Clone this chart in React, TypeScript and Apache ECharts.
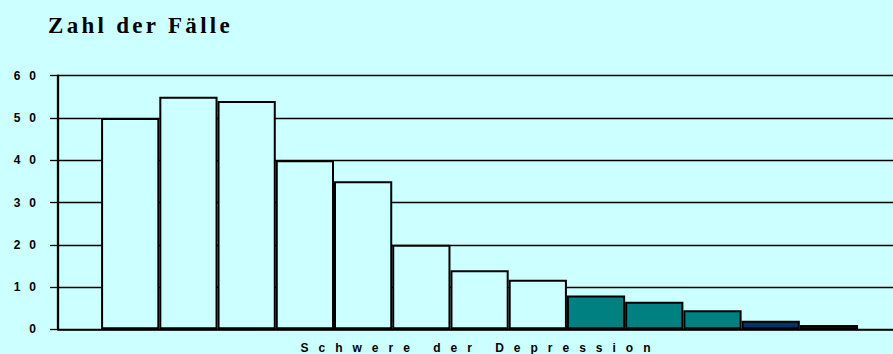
import React, { useEffect, useRef } from "react";
import * as echarts from "echarts";

// Severity classes (x positions of the histogram bars) and case counts per class
const severityClasses = [1, 2, 3, 4, 5, 6, 7, 8, 9, 10, 11, 12, 13];
const caseCounts = [50, 55, 54, 40, 35, 20, 14, 11.7, 8, 6.5, 4.5, 2, 1];

// Value-axis ticks
const yTicks = [0, 10, 20, 30, 40, 50, 60];
const yTickLabels = ["0", "10", "20", "30", "40", "50", "60"];

const titleText = "Zahl der Fälle";
const xAxisName = "Schwere der Depression";

const WIDTH = 893;
const HEIGHT = 354;
const GRID = { left: 58, right: 0, top: 75.7, bottom: 24.7 };
const X_MIN = -0.24;
const X_MAX = 14.1;

const BG = "#CCFFFF";
const TEAL = "#008080";
const NAVY = "#003366";

function barColor(idx: number): string {
  if (idx >= 11) return NAVY;
  if (idx >= 8) return TEAL;
  return BG;
}

// zrender has no letter-spacing style, so the spaced lettering is set on the SVG nodes
function applyLetterSpacing(root: HTMLElement) {
  root.querySelectorAll("text").forEach((t) => {
    const s = t.textContent ?? "";
    if (s === titleText) t.setAttribute("letter-spacing", "3.3");
    else if (s === xAxisName) t.setAttribute("letter-spacing", "10");
    else if (yTickLabels.includes(s)) t.setAttribute("letter-spacing", "9");
  });
}

export default function App() {
  const ref = useRef<HTMLDivElement>(null);

  useEffect(() => {
    const el = ref.current;
    if (!el) return;
    const chart = echarts.init(el, undefined, { renderer: "svg", width: WIDTH, height: HEIGHT });

    const plotWidth = WIDTH - GRID.left - GRID.right;
    const barWidth = plotWidth / (X_MAX - X_MIN);

    const option: echarts.EChartsOption = {
      animation: false,
      backgroundColor: BG,
      title: {
        text: titleText,
        left: 48,
        top: 14,
        padding: 0,
        textStyle: {
          fontFamily: "Liberation Serif",
          fontWeight: "bold",
          fontSize: 23,
          color: "#000",
        },
      },
      grid: { ...GRID, containLabel: false, outerBoundsMode: "none" } as any,
      xAxis: {
        type: "value",
        min: X_MIN,
        max: X_MAX,
        name: xAxisName,
        nameLocation: "middle",
        nameGap: 13,
        nameTextStyle: {
          fontFamily: "Liberation Sans",
          fontWeight: "bold",
          fontSize: 12,
          color: "#000",
          padding: [0, 0, 0, 10],
        },
        axisLine: { show: true, onZero: false, lineStyle: { color: "#000", width: 1.6 } },
        axisTick: { show: false },
        axisLabel: { show: false },
        splitLine: { show: false },
      },
      yAxis: {
        type: "value",
        min: yTicks[0],
        max: yTicks[yTicks.length - 1],
        interval: yTicks[1] - yTicks[0],
        axisLine: { show: true, onZero: false, lineStyle: { color: "#000", width: 2.3 } },
        axisTick: { show: true, length: 8, lineStyle: { color: "#000", width: 1.3 } },
        axisLabel: {
          margin: 13,
          fontFamily: "Liberation Sans",
          fontWeight: "bold",
          fontSize: 12,
          color: "#000",
          formatter: (v: number) => yTickLabels[yTicks.indexOf(v)] ?? String(v),
        },
        splitLine: { show: true, lineStyle: { color: "#000", width: 1.3 } },
      },
      series: [
        {
          type: "bar",
          barWidth,
          data: severityClasses.map((c, i) => ({
            value: [c, caseCounts[i]],
            itemStyle: {
              color: barColor(i),
              borderColor: "#000",
              borderWidth: 2,
            },
          })),
          emphasis: { disabled: true },
        },
      ],
    };

    chart.on("finished", () => applyLetterSpacing(el));
    chart.setOption(option);
    applyLetterSpacing(el);

    return () => {
      chart.dispose();
    };
  }, []);

  return (
    <div
      ref={ref}
      style={{ position: "absolute", left: 0, top: 0, width: WIDTH, height: HEIGHT, background: BG }}
    />
  );
}
